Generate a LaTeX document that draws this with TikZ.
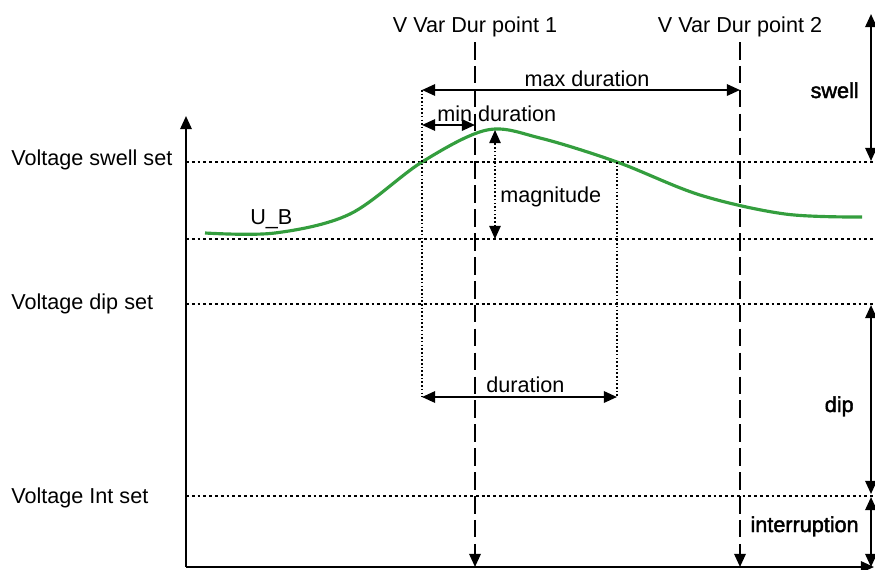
\documentclass[tikz,border=0pt]{standalone}
\usepackage{fontspec}
\setmainfont{Liberation Sans}
\newfontfamily\thickfont[FakeBold=2]{Liberation Sans}
\usepackage{xcolor}
\usetikzlibrary{arrows.meta,positioning}
\definecolor{curvegreen}{RGB}{52,158,62}

\begin{document}
\begin{tikzpicture}[x=0.02cm, y=-0.02cm,
  lbl/.style={inner sep=0pt, font=\fontsize{12.3}{14}\selectfont},
  zonelbl/.style={inner sep=0pt, font=\fontsize{12.3}{14}\selectfont\thickfont},
  axis/.style={line width=1.2pt, -{Triangle[length=7.5pt, width=6.5pt]}},
  level/.style={line width=1.6pt, dash pattern=on 1.6pt off 1.7pt},
  marker/.style={line width=1.2pt, dash pattern=on 10pt off 3.6pt, -{Triangle[length=7.5pt, width=6.5pt]}},
  guide/.style={line width=0.9pt, dash pattern=on 0.9pt off 1.2pt},
  dimarrow/.style={line width=1.2pt, {Triangle[length=7.5pt, width=6.5pt]}-{Triangle[length=7.5pt, width=6.5pt]}},
  magarrow/.style={line width=0.9pt, dash pattern=on 0.9pt off 1.2pt, {Triangle[length=7.5pt, width=6.5pt]}-{Triangle[length=7.5pt, width=6.5pt]}}
]
\useasboundingbox (0,0) rectangle (875,569);

% axes
\coordinate (origin) at (186,567);
\coordinate (ytip) at (186,116);
\coordinate (xtip) at (874,567);
\draw[axis] (origin) -- (ytip);
\draw[axis] (origin) -- (xtip);

% set levels
\coordinate (swellL) at (186,162);  \coordinate (swellR) at (875,162);
\coordinate (baseL) at (186,239);   \coordinate (baseR) at (875,239);
\coordinate (dipL) at (186,304);    \coordinate (dipR) at (875,304);
\coordinate (intL) at (186,496);    \coordinate (intR) at (875,496);
\draw[level] (swellL) -- (swellR);
\draw[level] (baseL) -- (baseR);
\draw[level] (dipL) -- (dipR);
\draw[level] (intL) -- (intR);

\node[lbl, anchor=base west] (swellset) at (11,165) {Voltage swell set};
\node[lbl, anchor=base west] (dipset) at (11,309) {Voltage dip set};
\node[lbl, anchor=base west] (intset) at (11,503) {Voltage Int set};

% duration points
\node[lbl, anchor=base] (pt1) at (475,32) {V Var Dur point 1};
\node[lbl, anchor=base] (pt2) at (740,32) {V Var Dur point 2};
\coordinate (pt1top) at (475,42);  \coordinate (pt1bot) at (475,567);
\coordinate (pt2top) at (740,42);  \coordinate (pt2bot) at (740,567);
\draw[marker] (pt1top) -- (pt1bot);
\draw[marker] (pt2top) -- (pt2bot);

% voltage curve
\draw[curvegreen, line width=1.8pt] plot[smooth, tension=0.55] coordinates {
  (205,233) (275,233) (350,214) (422,162) (487,130) (540,138) (617,162) (700,195) (785,214) (862,217)};
\node[lbl, anchor=base west] (ub) at (250,224) {U\_B};

% guides
\coordinate (startTop) at (422,90);  \coordinate (startBot) at (422,397);
\coordinate (endTop) at (617,162);   \coordinate (endBot) at (617,397);
\draw[guide] (startTop) -- (startBot);
\draw[guide] (endTop) -- (endBot);

% max / min duration
\coordinate (maxL) at (422,90);  \coordinate (maxR) at (740,90);
\draw[dimarrow] (maxL) -- (maxR);
\node[lbl, anchor=base] (maxdur) at (587,86) {max duration};

\coordinate (minL) at (422,125);  \coordinate (minR) at (475,125);
\draw[dimarrow] (minL) -- (minR);
\node[lbl, anchor=base west] (mindur) at (437,121) {min duration};

% magnitude
\coordinate (magTop) at (495,130);  \coordinate (magBot) at (495,239);
\draw[magarrow] (magBot) -- (magTop);
\node[lbl, anchor=base west] (mag) at (500,202) {magnitude};

% duration
\coordinate (durL) at (422,397);  \coordinate (durR) at (617,397);
\draw[dimarrow] (durL) -- (durR);
\node[lbl, anchor=base west] (dur) at (486,392) {duration};

% zones
\coordinate (swellTop) at (871,14);  \coordinate (swellBot) at (871,161);
\coordinate (dipTop) at (871,305);   \coordinate (dipBot) at (871,494);
\coordinate (intTop) at (871,497);   \coordinate (intBot) at (871,567);
\draw[dimarrow] (swellTop) -- (swellBot);
\draw[dimarrow] (dipTop) -- (dipBot);
\draw[dimarrow] (intTop) -- (intBot);
\node[zonelbl, anchor=base east] (swell) at (859,98) {swell};
\node[zonelbl, anchor=base east] (dip) at (854,412) {dip};
\node[zonelbl, anchor=base east] (interr) at (859,532) {interruption};
\end{tikzpicture}
\end{document}
